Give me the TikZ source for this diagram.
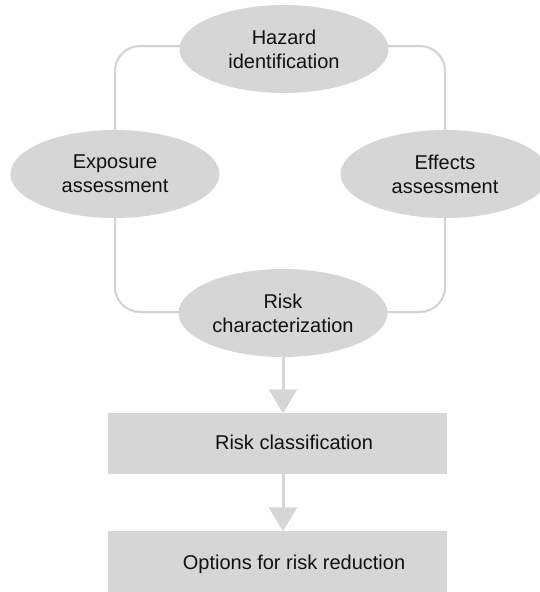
\documentclass[tikz,border=0pt]{standalone}
\usepackage{fontspec}
\setmainfont{Liberation Sans}
\usetikzlibrary{shapes.geometric,arrows.meta}
\definecolor{boxgray}{HTML}{D6D6D6}
\definecolor{linegray}{HTML}{D2D2D2}
\definecolor{txt}{HTML}{111111}
\begin{document}
\begin{tikzpicture}[x=1pt,y=-1pt,
  lbl/.style={font=\fontsize{20}{24}\selectfont, text=txt, align=center},
  oval/.style={ellipse, fill=boxgray, draw=none, minimum width=209pt, minimum height=88pt, inner sep=0pt, lbl},
  stepbox/.style={rectangle, fill=boxgray, draw=none, minimum width=339pt, minimum height=61pt, inner sep=0pt},
  loopline/.style={draw=linegray, line width=2pt, rounded corners=25pt},
  flow/.style={draw=boxgray, line width=3pt, -{Triangle[length=24pt,width=28pt]}, shorten >=-0.5pt}
]
\useasboundingbox (0,0) rectangle (540,592);
% connector loop behind ovals
\coordinate (hz) at (283,46);
\coordinate (rc) at (283,312);
\coordinate (ex) at (115,174);
\coordinate (ef) at (445,174);
\draw[loopline] (hz) -| (ex) |- (rc) -| (ef) |- (hz);
% ovals
\node[oval] (haz) at (284,49) {Hazard\\identification};
\node[oval] (exp) at (115,174) {Exposure\\assessment};
\node[oval] (eff) at (445,174) {Effects\\assessment};
\node[oval] (risk) at (283,313) {Risk\\characterization};
% boxes
\node[stepbox] (cls) at (277.5,443.5) {};
\node[stepbox] (opt) at (277.5,561.5) {};
\node[lbl, anchor=base] (clst) at (294,449) {Risk classification};
\node[lbl, anchor=base] (optt) at (294,569) {Options for risk reduction};
% arrows
\coordinate (a1) at (risk.south |- cls.north);
\coordinate (b0) at (risk.south |- cls.south);
\coordinate (b1) at (risk.south |- opt.north);
\draw[flow] (risk.south) -- (a1);
\draw[flow] (b0) -- (b1);
\end{tikzpicture}
\end{document}
